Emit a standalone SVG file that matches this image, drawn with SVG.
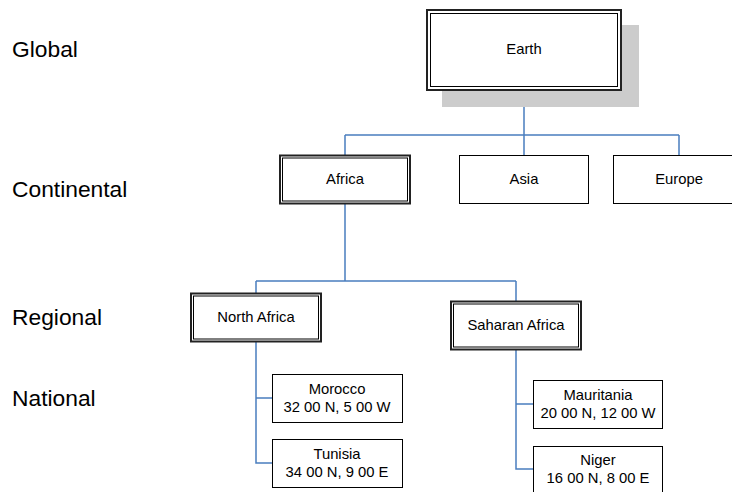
<svg xmlns="http://www.w3.org/2000/svg" width="732" height="492" viewBox="0 0 732 492">
<style>
.lvl{font-family:"Liberation Sans",Arial,sans-serif;font-size:22.8px;fill:#000}
.t{font-family:"Liberation Sans",Arial,sans-serif;font-size:14.8px;fill:#000;text-anchor:middle}
.box{fill:#fff;stroke:#000;stroke-width:1}
.outer{fill:#fff;stroke:#222;stroke-width:2}
.inner{fill:none;stroke:#000;stroke-width:1}
.conn{fill:none;stroke:#4a7ebf;stroke-width:1.5}
</style>
<rect width="732" height="492" fill="#fff"/>
<g id="levels">
<text class="lvl" x="12" y="57">Global</text>
<text class="lvl" x="12" y="197">Continental</text>
<text class="lvl" x="12" y="325">Regional</text>
<text class="lvl" x="12" y="406">National</text>
</g>
<g id="connectors">
<path class="conn" d="M524 91V135M345 135H679M345 135V155M524 135V155M679 135V155"/>
<path class="conn" d="M345 204V281M256 281H516M256 281V293M516 281V301"/>
<path class="conn" d="M256 342V463H272M256 398H272"/>
<path class="conn" d="M516 350V469H533M516 404H533"/>
</g>
<g id="earth">
<rect x="442" y="25" width="197" height="82" fill="#cccccc"/>
<rect class="outer" x="427" y="10" width="194" height="80"/>
<rect class="inner" x="430.5" y="13.5" width="187" height="73"/>
<text class="t" x="524" y="54">Earth</text>
</g>
<g id="africa">
<rect class="outer" x="280" y="155.5" width="130" height="48" stroke-width="1.5"/>
<rect class="inner" x="282.5" y="158" width="125" height="43"/>
<text class="t" x="345" y="184">Africa</text>
</g>
<g id="asia">
<rect class="box" x="459.5" y="155.5" width="129" height="48"/>
<text class="t" x="524" y="184">Asia</text>
</g>
<g id="europe">
<rect class="box" x="613.5" y="155.5" width="130" height="48"/>
<text class="t" x="679" y="184">Europe</text>
</g>
<g id="north-africa">
<rect class="outer" x="191" y="293.5" width="130" height="48" stroke-width="1.5"/>
<rect class="inner" x="193.5" y="296" width="125" height="43"/>
<text class="t" x="256" y="322">North Africa</text>
</g>
<g id="saharan-africa">
<rect class="outer" x="451" y="301.5" width="130" height="48" stroke-width="1.5"/>
<rect class="inner" x="453.5" y="304" width="125" height="43"/>
<text class="t" x="516" y="330">Saharan Africa</text>
</g>
<g id="morocco">
<rect class="box" x="272.5" y="374.5" width="130" height="48"/>
<text class="t" x="337" y="394">Morocco</text>
<text class="t" x="337" y="411.5">32 00 N, 5 00 W</text>
</g>
<g id="tunisia">
<rect class="box" x="272.5" y="439.5" width="130" height="48"/>
<text class="t" x="337" y="459">Tunisia</text>
<text class="t" x="337" y="477">34 00 N, 9 00 E</text>
</g>
<g id="mauritania">
<rect class="box" x="533.5" y="380.5" width="129" height="48"/>
<text class="t" x="598" y="400">Mauritania</text>
<text class="t" x="598" y="417.5">20 00 N, 12 00 W</text>
</g>
<g id="niger">
<rect class="box" x="533.5" y="446.5" width="129" height="48"/>
<text class="t" x="598" y="465">Niger</text>
<text class="t" x="598" y="483">16 00 N, 8 00 E</text>
</g>
</svg>
